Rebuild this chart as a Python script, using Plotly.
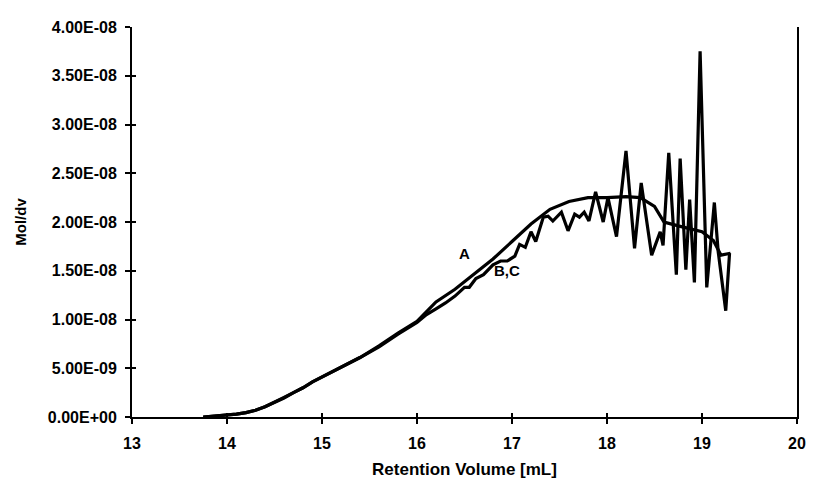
import plotly.graph_objects as go

# Curve A (smooth)
a_x = [13.75, 13.9, 14.0, 14.1, 14.2, 14.3, 14.4, 14.5, 14.6, 14.7, 14.8, 14.9, 15.0,
       15.2, 15.4, 15.6, 15.8, 16.0, 16.2, 16.4, 16.6, 16.8, 17.0, 17.2, 17.4, 17.6,
       17.8, 18.0, 18.2, 18.35, 18.5, 18.6, 18.75, 19.0, 19.12, 19.2, 19.3]
a_y = [0, 0.1e-9, 0.2e-9, 0.3e-9, 0.45e-9, 0.7e-9, 1.05e-9, 1.5e-9, 2.0e-9, 2.5e-9, 3.0e-9, 3.6e-9, 4.1e-9,
       5.1e-9, 6.1e-9, 7.3e-9, 8.6e-9, 9.8e-9, 1.18e-8, 1.31e-8, 1.46e-8, 1.62e-8, 1.80e-8, 1.98e-8, 2.13e-8, 2.21e-8,
       2.25e-8, 2.25e-8, 2.26e-8, 2.25e-8, 2.16e-8, 2.00e-8, 1.96e-8, 1.90e-8, 1.81e-8, 1.66e-8, 1.68e-8]

# Curves B,C (noisy)
bc_x = [13.75, 13.9, 14.0, 14.1, 14.2, 14.3, 14.4, 14.5, 14.6, 14.7, 14.8, 14.9, 15.0,
        15.2, 15.4, 15.6, 15.8, 16.0, 16.1, 16.2, 16.3, 16.4, 16.5, 16.55, 16.62, 16.7,
        16.8, 16.88, 16.95, 17.03, 17.08, 17.14, 17.2, 17.25, 17.33, 17.38, 17.43, 17.52,
        17.59, 17.66, 17.71, 17.76, 17.81, 17.88, 17.96, 18.01, 18.1, 18.2, 18.29, 18.36,
        18.47, 18.56, 18.59, 18.65, 18.73, 18.77, 18.83, 18.87, 18.92, 18.98, 19.05, 19.13,
        19.17, 19.25, 19.29]
bc_y = [0, 0.1e-9, 0.2e-9, 0.3e-9, 0.45e-9, 0.7e-9, 1.05e-9, 1.5e-9, 1.95e-9, 2.5e-9, 3.0e-9, 3.6e-9, 4.1e-9,
        5.1e-9, 6.1e-9, 7.2e-9, 8.5e-9, 9.7e-9, 1.05e-8, 1.11e-8, 1.17e-8, 1.24e-8, 1.33e-8, 1.33e-8, 1.42e-8, 1.46e-8,
        1.56e-8, 1.60e-8, 1.60e-8, 1.65e-8, 1.77e-8, 1.74e-8, 1.90e-8, 1.80e-8, 2.05e-8, 2.06e-8, 2.01e-8, 2.10e-8,
        1.91e-8, 2.08e-8, 2.05e-8, 2.10e-8, 2.01e-8, 2.31e-8, 2.00e-8, 2.25e-8, 1.85e-8, 2.73e-8, 1.73e-8, 2.40e-8,
        1.66e-8, 1.90e-8, 1.76e-8, 2.71e-8, 1.46e-8, 2.65e-8, 1.51e-8, 2.23e-8, 1.38e-8, 3.75e-8, 1.33e-8, 2.20e-8,
        1.70e-8, 1.09e-8, 1.68e-8]

y_tickvals = [0, 5e-9, 1e-8, 1.5e-8, 2e-8, 2.5e-8, 3e-8, 3.5e-8, 4e-8]
y_ticktext = ["0.00E+00", "5.00E-09", "1.00E-08", "1.50E-08", "2.00E-08",
              "2.50E-08", "3.00E-08", "3.50E-08", "4.00E-08"]
x_tickvals = [13, 14, 15, 16, 17, 18, 19, 20]

FONT = "Liberation Sans"
TICKFONT = dict(family=FONT, size=16, color="black", weight="bold")

fig = go.Figure()
fig.add_trace(go.Scatter(x=a_x, y=a_y, mode="lines", name="A",
                         line=dict(color="black", width=3.2)))
fig.add_trace(go.Scatter(x=bc_x, y=bc_y, mode="lines", name="B,C",
                         line=dict(color="black", width=3.2)))
# empty trace to draw the inner half of the crossing tick marks
fig.add_trace(go.Scatter(x=[None], y=[None], xaxis="x2", yaxis="y2",
                         mode="lines", showlegend=False, hoverinfo="skip"))

fig.add_annotation(x=16.5, y=1.68e-8, text="<b>A</b>", showarrow=False,
                   font=dict(family=FONT, size=15, color="black"))
fig.add_annotation(x=16.95, y=1.5e-8, text="<b>B,C</b>", showarrow=False,
                   font=dict(family=FONT, size=15, color="black"))

# page body has an 8px default margin: figure is sized to the remaining window
fig.update_layout(
    width=809, height=479,
    margin=dict(l=113, r=11, t=14, b=64),
    paper_bgcolor="white", plot_bgcolor="white",
    showlegend=False,
    xaxis=dict(range=[13, 20], tickvals=x_tickvals, showgrid=False, zeroline=False,
               showline=True, linecolor="black", linewidth=2,
               ticks="outside", ticklen=5, tickwidth=1.5, tickcolor="black",
               ticklabelstandoff=6, tickfont=TICKFONT,
               title=dict(text="<b>Retention Volume [mL]</b>", standoff=12,
                          font=dict(family=FONT, size=17, color="black"))),
    yaxis=dict(range=[0, 4e-8], tickvals=y_tickvals, ticktext=y_ticktext,
               showgrid=False, zeroline=False,
               showline=True, linecolor="black", linewidth=2, mirror=True,
               ticks="outside", ticklen=5, tickwidth=1.5, tickcolor="black",
               ticklabelstandoff=5, tickfont=TICKFONT,
               title=dict(text="<b>Mol/dv</b>", standoff=18,
                          font=dict(family=FONT, size=15, color="black"))),
    xaxis2=dict(range=[13, 20], tickvals=x_tickvals, overlaying="x", anchor="y2",
                showgrid=False, zeroline=False, showticklabels=False,
                ticks="inside", ticklen=4, tickwidth=1.5, tickcolor="black"),
    yaxis2=dict(range=[0, 4e-8], tickvals=y_tickvals, overlaying="y", anchor="x2",
                showgrid=False, zeroline=False, showticklabels=False,
                ticks="inside", ticklen=4, tickwidth=1.5, tickcolor="black"),
)

fig.write_html("out.html")
